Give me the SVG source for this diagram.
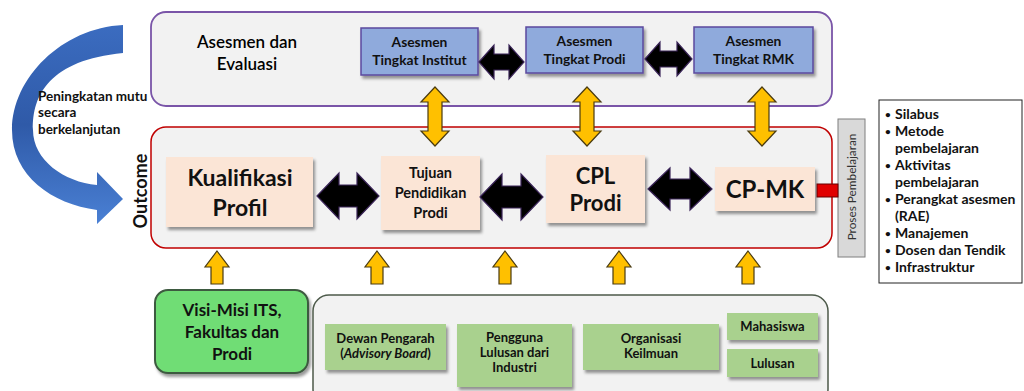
<svg xmlns="http://www.w3.org/2000/svg" width="1024" height="391" viewBox="0 0 1024 391">
<defs>
<filter id="sh" x="-10%" y="-10%" width="130%" height="140%">
<feDropShadow dx="2" dy="3" stdDeviation="1.8" flood-color="#000" flood-opacity="0.4"/>
</filter>
<linearGradient id="bg" x1="0" y1="0" x2="0" y2="1">
<stop offset="0" stop-color="#3b6cc0"/>
<stop offset="0.5" stop-color="#2f5aa8"/>
<stop offset="1" stop-color="#4a80d4"/>
</linearGradient>
</defs>
<style>
text{font-family:Lato,"Open Sans","Liberation Sans",sans-serif;fill:#111;}
.b{font-weight:bold;}
.c{text-anchor:middle;}
.cont{fill:#f2f2f2;}
.ase{fill:#8faadc;stroke:#5b4a9e;stroke-width:1.5;}
.peach{fill:#fbe5d6;}
.grn{fill:#a9d18e;}
.blk{fill:#000;stroke:#3a2458;stroke-width:1.2;}
.yel{fill:#ffc000;stroke:#4a3b10;stroke-width:1.2;}
.t13{font-size:13.8px;}
.t12{font-size:13px;}
.li{font-size:14px;font-weight:bold;}
.bu{font-size:10px;font-weight:bold;}
</style>

<g id="feedback-arrow">
<path d="M123,25 C62,28 12,78 12,130 C12,176 52,204 97,210 L97,224 L123,199 L97,172 L97,185 C64,182 33,160 33,130 C32,95 50,60 123,53 Z" fill="url(#bg)"/>
<text class="b" font-size="13.5" x="38" y="101">Peningkatan mutu</text>
<text class="b" font-size="13.5" x="38" y="117">secara</text>
<text class="b" font-size="13.5" x="38" y="134">berkelanjutan</text>
</g>

<g id="asesmen-evaluasi">
<rect class="cont" x="151" y="12" width="681" height="94" rx="15" stroke="#7a55a8" stroke-width="1.8"/>
<text class="c" font-size="17" font-weight="600" style="fill:#000" x="247" y="48">Asesmen dan</text>
<text class="c" font-size="17" font-weight="600" style="fill:#000" x="247" y="70">Evaluasi</text>
</g>
<g id="asesmen-institut">
<rect class="ase" x="361" y="28" width="117" height="47" filter="url(#sh)"/>
<text class="b c t13" x="419.5" y="47">Asesmen</text>
<text class="b c t13" x="419.5" y="65">Tingkat Institut</text>
</g>
<g id="asesmen-prodi">
<rect class="ase" x="526" y="27" width="117" height="46" filter="url(#sh)"/>
<text class="b c t13" x="584.5" y="46">Asesmen</text>
<text class="b c t13" x="584.5" y="64">Tingkat Prodi</text>
</g>
<g id="asesmen-rmk">
<rect class="ase" x="694" y="27" width="119" height="46" filter="url(#sh)"/>
<text class="b c t13" x="753.5" y="46">Asesmen</text>
<text class="b c t13" x="753.5" y="64">Tingkat RMK</text>
</g>

<g id="outcome">
<rect class="cont" x="151" y="127" width="681" height="121" rx="15" stroke="#c00000" stroke-width="1.5"/>
<text class="b c" font-size="18" transform="translate(147,191) rotate(-90)">Outcome</text>
</g>
<g id="kualifikasi-profil">
<rect class="peach" x="166" y="157" width="147" height="70" filter="url(#sh)"/>
<text class="b c" font-size="23" x="240" y="186">Kualifikasi</text>
<text class="b c" font-size="23" x="240" y="216">Profil</text>
</g>
<g id="tujuan-pendidikan">
<rect class="peach" x="381" y="156" width="99" height="74" filter="url(#sh)"/>
<text class="b c" font-size="14.5" x="430.5" y="178">Tujuan</text>
<text class="b c" font-size="14.5" x="430.5" y="198">Pendidikan</text>
<text class="b c" font-size="14.5" x="430.5" y="218">Prodi</text>
</g>
<g id="cpl-prodi">
<rect class="peach" x="546" y="155" width="99" height="68" filter="url(#sh)"/>
<text class="b c" font-size="22" x="595.5" y="184">CPL</text>
<text class="b c" font-size="22" x="595.5" y="211">Prodi</text>
</g>
<g id="cp-mk">
<rect class="peach" x="715" y="167" width="100" height="44" filter="url(#sh)"/>
<text class="b c" font-size="24" x="765" y="198">CP-MK</text>
</g>

<g id="proses-pembelajaran">
<rect x="838" y="119" width="27" height="138" fill="#d9d9d9" stroke="#7f7f7f" stroke-width="1"/>
<text class="c" font-size="11.8" style="fill:#333" transform="translate(856,187) rotate(-90)">Proses Pembelajaran</text>
</g>
<g id="daftar-proses">
<rect x="879" y="100" width="143" height="183" fill="#fff" stroke="#222" stroke-width="1"/>
<text class="bu" x="885" y="118">•</text><text class="li" x="895" y="119">Silabus</text>
<text class="bu" x="885" y="135">•</text><text class="li" x="895" y="136">Metode</text>
<text class="li" x="895" y="153">pembelajaran</text>
<text class="bu" x="885" y="169">•</text><text class="li" x="895" y="170">Aktivitas</text>
<text class="li" x="895" y="187">pembelajaran</text>
<text class="bu" x="885" y="203">•</text><text class="li" x="895" y="204">Perangkat asesmen</text>
<text class="li" x="895" y="221">(RAE)</text>
<text class="bu" x="885" y="237">•</text><text class="li" x="895" y="238">Manajemen</text>
<text class="bu" x="885" y="254">•</text><text class="li" x="895" y="255">Dosen dan Tendik</text>
<text class="bu" x="885" y="271">•</text><text class="li" x="895" y="272">Infrastruktur</text>
</g>

<g id="visi-misi">
<rect x="155" y="290" width="153" height="83" rx="13" fill="#70dd74" stroke="#3e5a40" stroke-width="2" filter="url(#sh)"/>
<text class="b c" font-size="17" x="232" y="316">Visi-Misi ITS,</text>
<text class="b c" font-size="17" x="232" y="338">Fakultas dan</text>
<text class="b c" font-size="17" x="232" y="360">Prodi</text>
</g>
<g id="stakeholder">
<rect class="cont" x="313" y="295" width="515" height="110" rx="16" stroke="#4d5a4a" stroke-width="1.5"/>
</g>
<g id="dewan-pengarah">
<rect class="grn" x="325" y="324" width="121" height="46" filter="url(#sh)"/>
<text class="b c t12" x="385.5" y="343">Dewan Pengarah</text>
<text class="b c t12" x="385.5" y="358">(<tspan font-style="italic">Advisory Board</tspan>)</text>
</g>
<g id="pengguna-lulusan">
<rect class="grn" x="457" y="324" width="115" height="63" filter="url(#sh)"/>
<text class="b c t12" x="514.5" y="342">Pengguna</text>
<text class="b c t12" x="514.5" y="357">Lulusan dari</text>
<text class="b c t12" x="514.5" y="372">Industri</text>
</g>
<g id="organisasi-keilmuan">
<rect class="grn" x="583" y="324" width="136" height="46" filter="url(#sh)"/>
<text class="b c t12" x="651" y="343">Organisasi</text>
<text class="b c t12" x="651" y="358">Keilmuan</text>
</g>
<g id="mahasiswa">
<rect class="grn" x="727" y="313" width="91" height="27" filter="url(#sh)"/>
<text class="b c t12" x="772.5" y="331">Mahasiswa</text>
</g>
<g id="lulusan">
<rect class="grn" x="727" y="349" width="91" height="28" filter="url(#sh)"/>
<text class="b c t12" x="772.5" y="368">Lulusan</text>
</g>

<g id="connectors">
<rect x="817" y="184" width="21" height="13" fill="#e00000" stroke="#600" stroke-width="1"/>
<path class="blk" d="M479,62 L494,45 L494,54 L509,54 L509,45 L524,62 L509,79 L509,70 L494,70 L494,79 Z"/>
<path class="blk" d="M645,59 L660,42 L660,51 L677,51 L677,42 L692,59 L677,76 L677,67 L660,67 L660,76 Z"/>
<path class="blk" d="M317,196 L339,173 L339,185 L357,185 L357,173 L379,196 L357,219 L357,207 L339,207 L339,219 Z"/>
<path class="blk" d="M480,197 L502,174 L502,186 L521,186 L521,174 L543,197 L521,220 L521,208 L502,208 L502,220 Z"/>
<path class="blk" d="M648,189 L670,168 L670,179 L690,179 L690,168 L712,189 L690,210 L690,199 L670,199 L670,210 Z"/>
<path class="yel" d="M435,87 L449,102 L442,102 L442,131 L449,131 L435,146 L421,131 L428,131 L428,102 L421,102 Z"/>
<path class="yel" d="M587,87 L601,102 L594,102 L594,131 L601,131 L587,146 L573,131 L580,131 L580,102 L573,102 Z"/>
<path class="yel" d="M762,87 L776,102 L769,102 L769,131 L776,131 L762,146 L748,131 L755,131 L755,102 L748,102 Z"/>
<path class="yel" d="M217,251 L229,267 L223,267 L223,284 L211,284 L211,267 L205,267 Z"/>
<path class="yel" d="M377,251 L389,267 L383,267 L383,284 L371,284 L371,267 L365,267 Z"/>
<path class="yel" d="M505,251 L517,267 L511,267 L511,284 L499,284 L499,267 L493,267 Z"/>
<path class="yel" d="M619,251 L631,267 L625,267 L625,284 L613,284 L613,267 L607,267 Z"/>
<path class="yel" d="M748,251 L760,267 L754,267 L754,284 L742,284 L742,267 L736,267 Z"/>
</g>
</svg>
